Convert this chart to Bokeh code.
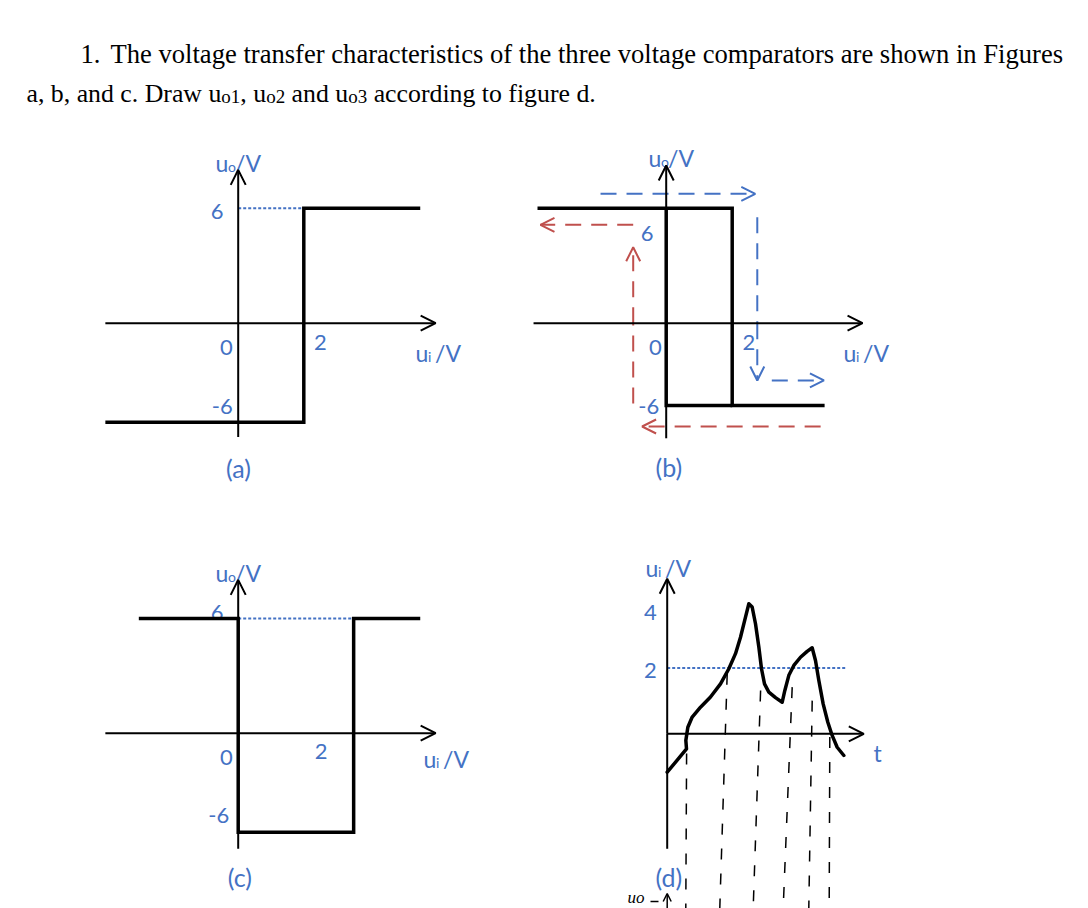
from bokeh.plotting import figure
from bokeh.models import Range1d, Arrow, OpenHead
from bokeh.core.properties import value
from bokeh.embed import file_html
from bokeh.resources import INLINE

# ---------------- data ----------------
title1 = ["1.", "The voltage transfer characteristics of the three voltage comparators are shown in Figures"]
title2 = ["a, b, and c. Draw u", "o1", ", u", "o2", " and u", "o3", " according to figure d."]

# (a) single-threshold comparator (threshold 2 V, output +/-6 V)
a_ui = [-4.05, 2.0, 2.0, 5.55]
a_uo = [-6, -6, 6, 6]
a_ref_ui = [0.0, 2.0]
a_ref_uo = [6, 6]
a_labels = ["6", "0", "2", "-6", "(a)"]

# (b) hysteresis comparator (thresholds 0 V and 2 V)
b_ui_1 = [-3.9, 2.0, 2.0, 4.8]
b_uo_1 = [6, 6, -6, -6]
b_ui_2 = [0.0, 0.0, 2.0]
b_uo_2 = [6, -6, -6]
b_blue_x = [[-1.99, 2.7], [2.76, 2.76], [3.2, 4.78]]
b_blue_y = [[6.75, 6.75], [5.53, -4.18], [-4.18, -4.18]]
b_red_x = [[-1.0, -3.81], [-1.0, -1.0], [4.68, -0.73]]
b_red_y = [[5.13, 5.13], [-5.86, 3.96], [-7.54, -7.54]]
b_labels = ["6", "0", "2", "-6", "(b)"]

# (c) window comparator
c_ui = [-3.03, 0.0, 0.0, 3.52, 3.52, 5.55]
c_uo = [6, 6, -6, -6, 6, 6]
c_ref_ui = [0.0, 3.52]
c_ref_uo = [6, 6]
c_labels = ["6", "0", "2", "-6", "(c)"]

# (d) input waveform u_i(t)
d_t = [0.0, 0.965, 0.932, 1.032, 1.25, 1.665, 2.165, 2.665, 3.082, 3.415, 3.665, 3.915,
       4.082, 4.248, 4.415, 4.582, 4.715, 4.865, 5.082, 5.415, 5.748, 5.882, 6.082, 6.332,
       6.665, 6.998, 7.248, 7.415, 7.582, 7.798, 8.032, 8.248, 8.498, 8.832]
d_ui = [-1.17, -0.46, -0.20, 0.20, 0.51, 0.81, 1.12, 1.52, 1.98, 2.44, 2.94, 3.55,
        3.96, 3.86, 3.35, 2.64, 1.98, 1.52, 1.27, 1.10, 0.96, 1.32, 1.78, 2.08,
        2.33, 2.51, 2.62, 2.23, 1.62, 0.91, 0.35, -0.05, -0.41, -0.66]
d_ref_t = [0.0, 8.9]
d_ref_u = [2, 2]
d_guide_t_top = [0.97, 3.0, 4.67, 6.25, 7.25, 8.13]
d_guide_u_top = [-0.6, 1.83, 1.32, 1.42, 1.01, -0.1]
d_guide_t_bot = [0.93, 2.63, 4.3, 5.8, 7.08, 8.1]
d_guide_u_bot = [-5.3, -5.3, -5.3, -5.3, -5.3, -5.3]
d_labels = ["4", "2", "(d)"]

# ---------------- layout / style ----------------
W, H = 1088, 908
X0, Y0 = 0, 0
BLUE = "#4472C4"
RED = "#C0504D"
BLACK = "#000000"
LFONT = value("Lato")
TFONT = value("Liberation Serif")

# Times/Liberation Serif advance widths (per 1000 em) for placing the subscripted pieces
ADV = {" ": 250, ",": 250, ".": 250, "1": 500, "2": 500, "3": 500, "a": 444, "b": 500,
       "c": 444, "d": 500, "e": 444, "f": 333, "g": 500, "i": 278, "n": 500, "o": 500,
       "r": 333, "t": 278, "u": 500, "w": 722, "D": 722}


def tw(s, size):
    return sum(ADV.get(ch, 500) for ch in s) * size / 1000.0


PANELS = {
    "a": dict(ox=237.7, oy=322.7, sx=32.8, sy_up=19.17, sy_dn=16.5, xax=(-4.05, 6.02), yax=(-6.9, 8.0)),
    "b": dict(ox=665.7, oy=322.7, sx=33.0, sy_up=19.17, sy_dn=13.7, xax=(-4.02, 5.95), yax=(-8.4, 8.23)),
    "c": dict(ox=237.7, oy=732.7, sx=32.8, sy_up=19.1, sy_dn=16.5, xax=(-4.05, 6.02), yax=(-7.0, 8.03)),
    "d": dict(ox=666.7, oy=733.3, sx=20.0, sy_up=32.85, sy_dn=32.85, xax=(0.0, 9.83), yax=(-3.5, 4.72)),
}

p = figure(width=W, height=H, x_range=Range1d(X0, X0 + W), y_range=Range1d(Y0 + H, Y0),
           output_backend="svg", toolbar_location=None, min_border=0,
           x_axis_location=None, y_axis_location=None,
           background_fill_color="white", border_fill_color="white", outline_line_color=None)
p.grid.visible = False

exr, eyr = {}, {}
for k, c in PANELS.items():
    exr[k] = Range1d((X0 - c["ox"]) / c["sx"], (X0 + W - c["ox"]) / c["sx"])
    eyr[k + "_up"] = Range1d((c["oy"] - (Y0 + H)) / c["sy_up"], (c["oy"] - Y0) / c["sy_up"])
    eyr[k + "_dn"] = Range1d((c["oy"] - (Y0 + H)) / c["sy_dn"], (c["oy"] - Y0) / c["sy_dn"])
p.extra_x_ranges = exr
p.extra_y_ranges = eyr


def split_path(xs, ys):
    pts = [(xs[0], ys[0])]
    for (x0, y0), (x1, y1) in zip(zip(xs, ys), zip(xs[1:], ys[1:])):
        if y0 * y1 < 0:
            f = y0 / (y0 - y1)
            pts.append((x0 + f * (x1 - x0), 0.0))
        pts.append((x1, y1))
    groups = []
    for a, b in zip(pts, pts[1:]):
        up = (a[1] + b[1]) >= 0
        if groups and groups[-1][0] == up:
            groups[-1][1].append(b)
        else:
            groups.append([up, [a, b]])
    return groups


def path(panel, xs, ys, color=BLACK, width=3.5, dash="solid", join="miter"):
    for up, pts in split_path(xs, ys):
        p.line([q[0] for q in pts], [q[1] for q in pts], x_range_name=panel,
               y_range_name=panel + ("_up" if up else "_dn"), line_color=color,
               line_width=width, line_dash=dash, line_join=join, line_cap="butt")


def head(panel, x0, y0, x1, y1, color, size=14, lw=2.0):
    rn = panel + ("_up" if y1 >= 0 else "_dn")
    p.add_layout(Arrow(x_start=x0, y_start=y0, x_end=x1, y_end=y1, line_alpha=0,
                       end=OpenHead(size=size, line_color=color, line_width=lw),
                       x_range_name=panel, y_range_name=rn))


def axes(panel):
    c = PANELS[panel]
    p.add_layout(Arrow(x_start=c["xax"][0], y_start=0, x_end=c["xax"][1], y_end=0,
                       line_color=BLACK, line_width=2,
                       end=OpenHead(size=15, line_color=BLACK, line_width=2),
                       x_range_name=panel, y_range_name=panel + "_up"))
    p.line([0, 0], [c["yax"][0], 0], x_range_name=panel, y_range_name=panel + "_dn",
           line_color=BLACK, line_width=2)
    p.add_layout(Arrow(x_start=0, y_start=0, x_end=0, y_end=c["yax"][1],
                       line_color=BLACK, line_width=2,
                       end=OpenHead(size=15, line_color=BLACK, line_width=2),
                       x_range_name=panel, y_range_name=panel + "_up"))


def labels(texts, pos):
    sizes = ["25px" if t.startswith("(") else "22px" for t in texts]
    p.text(x=[q[0] for q in pos], y=[q[1] for q in pos], text=texts, text_font=LFONT,
           text_font_size=sizes, text_color=BLUE, text_align="center", text_baseline="middle")


def axis_name(x, y, main, sub, tail):
    p.text(x=[x], y=[y], text=[main], text_font=LFONT, text_font_size="23px",
           text_color=BLUE, text_baseline="alphabetic")
    p.text(x=[x + 12.5], y=[y + 4], text=[sub], text_font=LFONT, text_font_size="14px",
           text_color=BLUE, text_baseline="alphabetic")
    p.text(x=[x + 19.5], y=[y], text=[tail], text_font=LFONT, text_font_size="23px",
           text_color=BLUE, text_baseline="alphabetic")


# ---------------- title ----------------
p.text(x=[80, 110], y=[53, 53], text=title1, text_font=TFONT, text_font_size="26.6px",
       text_color=BLACK, text_baseline="alphabetic")
BIG, SUB = 25.8, 19.0
t2_big = [True, False, True, False, True, False, True]
xcur = 26.0
for s, big in zip(title2, t2_big):
    size = BIG if big else SUB
    if s.startswith(" "):            # svg drops leading blanks: advance instead
        xcur += tw(" ", size)
        s = s[1:]
    p.text(x=[xcur], y=[93 if big else 96], text=[s], text_font=TFONT,
           text_font_size=f"{size}px", text_color=BLACK, text_baseline="alphabetic")
    xcur += tw(s, size)

# ---------------- panel (a) ----------------
path("a", a_ref_ui, a_ref_uo, color=BLUE, width=2, dash="3 2")
axes("a")
path("a", a_ui, a_uo)
labels(a_labels, [(216.7, 211), (226, 346.7), (320, 341.7), (221.7, 406), (238, 467)])
axis_name(215, 162, "u", "o", "/V")
axis_name(415, 352, "u", "i", "/V")

# ---------------- panel (b) ----------------
axes("b")
path("b", b_ui_1, b_uo_1)
path("b", b_ui_2, b_uo_2)


def sgn(v):
    return (v > 0) - (v < 0)


for xs, ys, col in [(x, y, BLUE) for x, y in zip(b_blue_x, b_blue_y)] + \
                   [(x, y, RED) for x, y in zip(b_red_x, b_red_y)]:
    path("b", xs, ys, color=col, width=2, dash="16 10")
    dx, dy = xs[1] - xs[0], ys[1] - ys[0]
    head("b", xs[1] - 0.05 * sgn(dx), ys[1] - 0.05 * sgn(dy), xs[1], ys[1], col)
labels(b_labels, [(646.7, 233.3), (655, 346.7), (748.3, 341.7), (648.3, 406), (668.3, 466.7)])
axis_name(648, 157, "u", "o", "/V")
axis_name(843, 352, "u", "i", "/V")

# ---------------- panel (c) ----------------
path("c", c_ref_ui, c_ref_uo, color=BLUE, width=2, dash="3 2")
axes("c")
labels(c_labels, [(216.7, 611.7), (226, 756.7), (320.7, 750.7), (218.3, 815), (239.3, 876.7)])
path("c", c_ui, c_uo)
axis_name(215, 572, "u", "o", "/V")
axis_name(423, 758, "u", "i", "/V")

# ---------------- panel (d) ----------------
path("d", d_ref_t, d_ref_u, color=BLUE, width=2, dash="3 2")
axes("d")
p.segment(x0=d_guide_t_top, y0=d_guide_u_top, x1=d_guide_t_bot, y1=d_guide_u_bot,
          x_range_name="d", y_range_name="d_up", line_color=BLACK, line_width=1.5,
          line_dash="11 14")
p.line(d_t, d_ui, x_range_name="d", y_range_name="d_up", line_color=BLACK,
       line_width=3.5, line_join="round", line_cap="round")
labels(d_labels, [(650, 611.7), (650, 670), (668.3, 876.7)])
axis_name(645, 567, "u", "i", "/V")
p.text(x=[873], y=[752], text=["t"], text_font=LFONT, text_font_size="23px",
       text_color=BLUE, text_baseline="alphabetic")

# handwritten start of the answer axis
p.text(x=[627], y=[897], text=["uo"], text_font=TFONT, text_font_style="italic",
       text_font_size="17px", text_color=BLACK, text_baseline="middle")
p.line([650, 658], [901, 901], line_color=BLACK, line_width=1.5)
p.add_layout(Arrow(x_start=666.7, y_start=908, x_end=666.7, y_end=893, line_color=BLACK,
                   line_width=1.5, end=OpenHead(size=8, line_color=BLACK, line_width=1.5)))

open("out.html", "w").write(file_html(p, INLINE))
